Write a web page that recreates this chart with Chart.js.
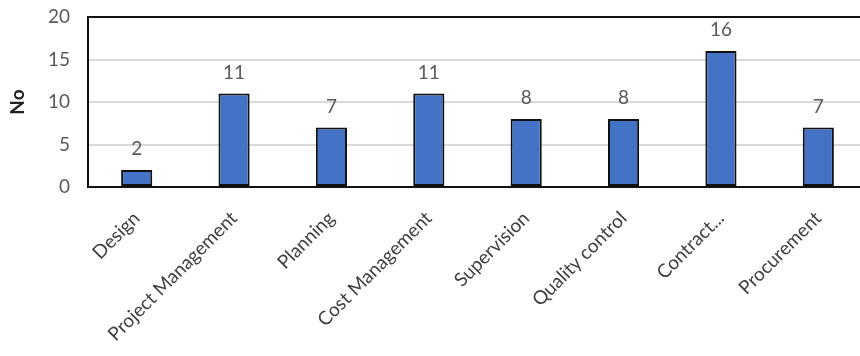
<!DOCTYPE html>
<html>
<head>
<meta charset="utf-8">
<script src="https://cdn.jsdelivr.net/npm/chart.js@4/dist/chart.umd.min.js"></script>
<style>
  html, body { margin: 0; padding: 0; background: #fff; overflow: hidden; }
  #wrap { width: 870px; height: 356px; }
</style>
</head>
<body>
<div id="wrap"><canvas id="c" width="870" height="356"></canvas></div>
<script>
const categories = ["Design", "Project Management", "Planning", "Cost Management",
                    "Supervision", "Quality control", "Contract...", "Procurement"];
const counts = [2, 11, 7, 11, 8, 8, 16, 7];
const yTicks = [0, 5, 10, 15, 20];

const FONT = "Lato, 'Open Sans', sans-serif";

// value labels above each bar
const valueLabels = {
  id: 'valueLabels',
  afterDatasetsDraw(chart) {
    const ctx = chart.ctx;
    const meta = chart.getDatasetMeta(0);
    ctx.save();
    ctx.font = "19px " + FONT;
    ctx.fillStyle = "#595959";
    ctx.textAlign = "center";
    ctx.textBaseline = "alphabetic";
    meta.data.forEach((bar, i) => {
      ctx.fillText(String(counts[i]), bar.x, bar.y - 15);
    });
    ctx.restore();
  }
};

// black frame around the plot area
const plotFrame = {
  id: 'plotFrame',
  afterDatasetsDraw(chart) {
    const { ctx, chartArea: a } = chart;
    ctx.save();
    ctx.strokeStyle = "#111";
    ctx.lineWidth = 2;
    ctx.strokeRect(a.left, a.top, a.right - a.left, a.bottom - a.top);
    ctx.restore();
  }
};

new Chart(document.getElementById('c'), {
  type: 'bar',
  data: {
    labels: categories,
    datasets: [{
      data: counts,
      backgroundColor: "#4472C4",
      borderColor: "#111",
      borderWidth: 2,
      borderSkipped: false,
      categoryPercentage: 1,
      barPercentage: 0.32
    }]
  },
  options: {
    responsive: false,
    animation: false,
    layout: { padding: { top: 17, right: 3, left: 0, bottom: 0 } },
    plugins: { legend: { display: false }, tooltip: { enabled: false } },
    scales: {
      x: {
        grid: { display: false },
        border: { color: "#111", width: 2 },
        ticks: {
          autoSkip: false,
          minRotation: 45,
          maxRotation: 45,
          color: "#404040",
          padding: 12,
          font: { family: FONT, size: 19 }
        },
        afterFit(scale) {
          scale.height = 169;
          scale.paddingTop = 0;
          scale.paddingBottom = 0;
        }
      },
      y: {
        min: 0,
        max: 20,
        afterBuildTicks(scale) { scale.ticks = yTicks.map(v => ({ value: v })); },
        grid: {
          color: ctx => (ctx.tick && (ctx.tick.value === 0 || ctx.tick.value === 20)) ? "rgba(0,0,0,0)" : "#d9d9d9",
          lineWidth: 2,
          drawTicks: false
        },
        border: { color: "#111", width: 2 },
        ticks: {
          color: "#595959",
          padding: 18,
          font: { family: FONT, size: 19 }
        },
        title: {
          display: true,
          text: "No",
          color: "#222",
          padding: { top: 6, bottom: 8 },
          font: { family: FONT, size: 19, weight: "bold" }
        },
        afterFit(scale) {
          scale.width = 88;
          scale.paddingTop = 0;
          scale.paddingBottom = 0;
        }
      }
    }
  },
  plugins: [valueLabels, plotFrame]
});
</script>
</body>
</html>
